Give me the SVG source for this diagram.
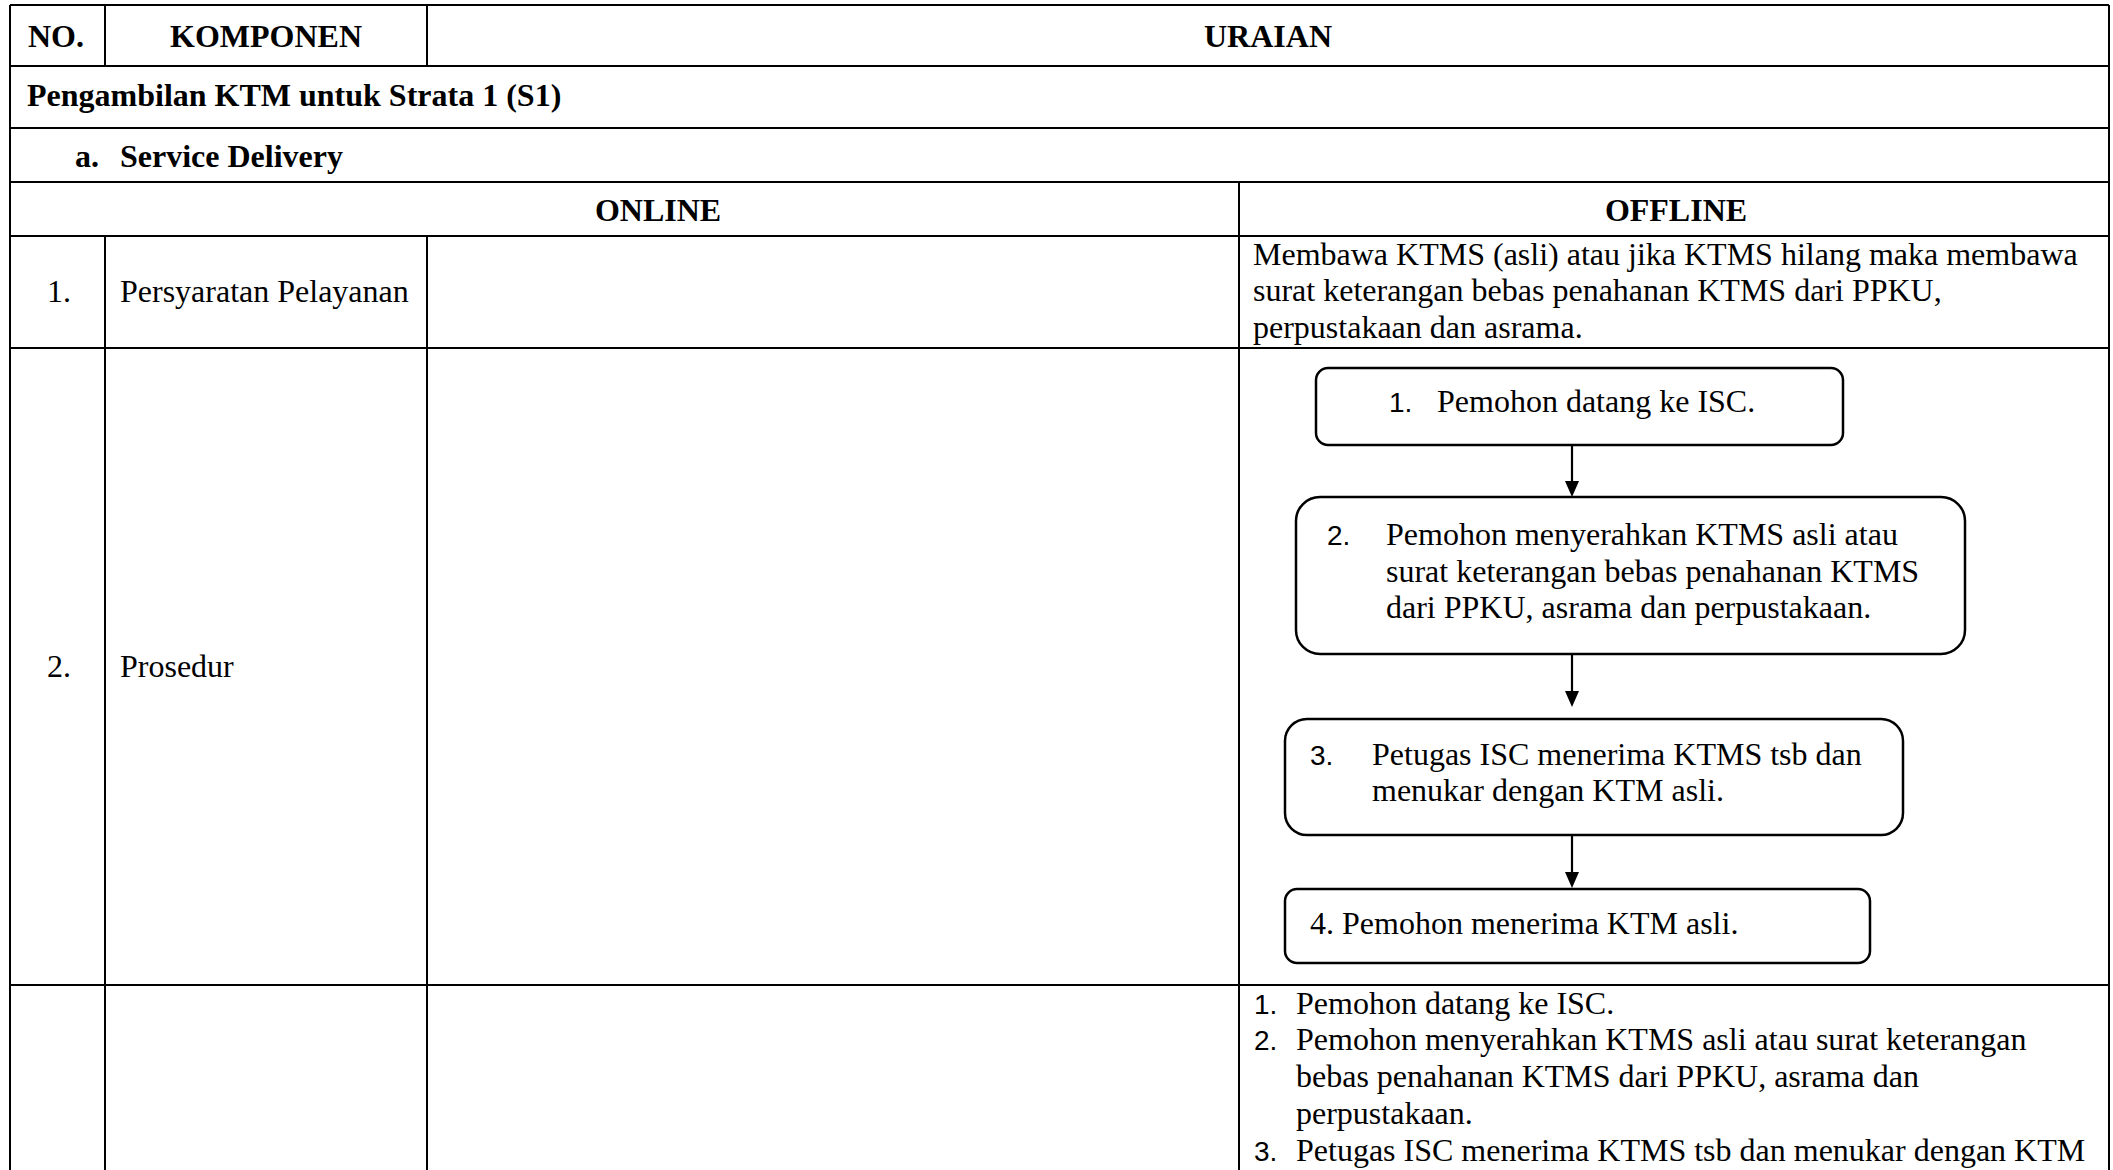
<svg xmlns="http://www.w3.org/2000/svg" width="2113" height="1170" viewBox="0 0 2113 1170">
  <style>
    .grid { stroke: #000; stroke-width: 2; fill: none; }
    .box { fill: #fff; stroke: #000; stroke-width: 2.5; }
    .t { font-family: "Liberation Serif", "Times New Roman", serif; font-size: 32px; fill: #000; }
    .b { font-weight: bold; }
    .mid { text-anchor: middle; }
    .num { font-family: "Liberation Sans", Arial, sans-serif; font-size: 28px; fill: #000; }
    .link { stroke: #000; stroke-width: 2.2; fill: none; }
    .head { fill: #000; }
  </style>

  <rect x="0" y="0" width="2113" height="1170" fill="#fff"/>

  <!-- table grid -->
  <g id="table">
    <line class="grid" x1="10" y1="5" x2="2109" y2="5"/>
    <line class="grid" x1="10" y1="66" x2="2109" y2="66"/>
    <line class="grid" x1="10" y1="128" x2="2109" y2="128"/>
    <line class="grid" x1="10" y1="182" x2="2109" y2="182"/>
    <line class="grid" x1="10" y1="236" x2="2109" y2="236"/>
    <line class="grid" x1="10" y1="348" x2="2109" y2="348"/>
    <line class="grid" x1="10" y1="985" x2="2109" y2="985"/>
    <!-- outer verticals -->
    <line class="grid" x1="10" y1="5" x2="10" y2="1170"/>
    <line class="grid" x1="2109" y1="5" x2="2109" y2="1170"/>
    <!-- header columns -->
    <line class="grid" x1="105" y1="5" x2="105" y2="66"/>
    <line class="grid" x1="427" y1="5" x2="427" y2="66"/>
    <!-- online / offline split -->
    <line class="grid" x1="1239" y1="182" x2="1239" y2="1170"/>
    <!-- body columns -->
    <line class="grid" x1="105" y1="236" x2="105" y2="1170"/>
    <line class="grid" x1="427" y1="236" x2="427" y2="1170"/>
  </g>

  <!-- header and section texts -->
  <g id="headers">
    <text class="t b mid" x="56" y="47">NO.</text>
    <text class="t b mid" x="266" y="47">KOMPONEN</text>
    <text class="t b mid" x="1268" y="47">URAIAN</text>
    <text class="t b" x="27" y="106">Pengambilan KTM untuk Strata 1 (S1)</text>
    <text class="t b" x="75" y="167">a.</text>
    <text class="t b" x="120" y="167">Service Delivery</text>
    <text class="t b mid" x="658" y="221">ONLINE</text>
    <text class="t b mid" x="1676" y="221">OFFLINE</text>
  </g>

  <!-- row 1 -->
  <g id="row1">
    <text class="t" x="47" y="302">1.</text>
    <text class="t" x="120" y="302">Persyaratan Pelayanan</text>
    <text class="t" x="1253" y="264.5">Membawa KTMS (asli) atau jika KTMS hilang maka membawa</text>
    <text class="t" x="1253" y="301.3">surat keterangan bebas penahanan KTMS dari PPKU,</text>
    <text class="t" x="1253" y="338.1">perpustakaan dan asrama.</text>
  </g>

  <!-- row 2 -->
  <g id="row2">
    <text class="t" x="47" y="677">2.</text>
    <text class="t" x="120" y="677">Prosedur</text>
  </g>

  <!-- flow steps -->
  <g id="step1">
    <rect class="box" x="1316" y="368" width="527" height="77" rx="12"/>
    <text class="num" x="1389" y="412">1.</text>
    <text class="t" x="1437" y="412">Pemohon datang ke ISC.</text>
  </g>
  <g id="step2">
    <rect class="box" x="1296" y="497" width="669" height="157" rx="24"/>
    <text class="num" x="1327" y="545">2.</text>
    <text class="t" x="1386" y="545">Pemohon menyerahkan KTMS asli atau</text>
    <text class="t" x="1386" y="581.5">surat keterangan bebas penahanan KTMS</text>
    <text class="t" x="1386" y="618">dari PPKU, asrama dan perpustakaan.</text>
  </g>
  <g id="step3">
    <rect class="box" x="1285" y="719" width="618" height="116" rx="22"/>
    <text class="num" x="1310" y="765">3.</text>
    <text class="t" x="1372" y="765">Petugas ISC menerima KTMS tsb dan</text>
    <text class="t" x="1372" y="801">menukar dengan KTM asli.</text>
  </g>
  <g id="step4">
    <rect class="box" x="1285" y="889" width="585" height="74" rx="12"/>
    <text class="t" x="1310" y="934">4. Pemohon menerima KTM asli.</text>
  </g>

  <!-- connectors: vertical shafts with solid triangular heads -->
  <g id="connectors">
    <line class="link" x1="1572" y1="445" x2="1572" y2="482"/>
    <path class="head" d="M1565,481 L1579,481 L1572,497 Z"/>
    <line class="link" x1="1572" y1="654" x2="1572" y2="692"/>
    <path class="head" d="M1565,691 L1579,691 L1572,707 Z"/>
    <line class="link" x1="1572" y1="835" x2="1572" y2="873"/>
    <path class="head" d="M1565,872 L1579,872 L1572,888 Z"/>
  </g>

  <!-- row 3 -->
  <g id="row3">
    <text class="num" x="1254" y="1013.5">1.</text>
    <text class="t" x="1296" y="1013.5">Pemohon datang ke ISC.</text>
    <text class="num" x="1254" y="1050.3">2.</text>
    <text class="t" x="1296" y="1050.3">Pemohon menyerahkan KTMS asli atau surat keterangan</text>
    <text class="t" x="1296" y="1087.1">bebas penahanan KTMS dari PPKU, asrama dan</text>
    <text class="t" x="1296" y="1123.9">perpustakaan.</text>
    <text class="num" x="1254" y="1160.7">3.</text>
    <text class="t" x="1296" y="1160.7">Petugas ISC menerima KTMS tsb dan menukar dengan KTM</text>
  </g>
</svg>
